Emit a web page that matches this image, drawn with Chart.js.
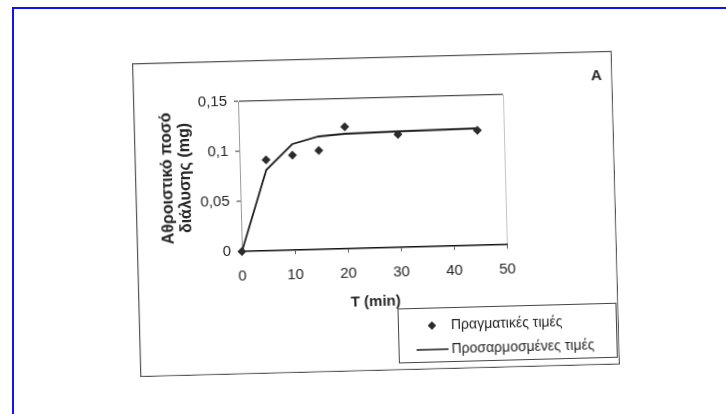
<!DOCTYPE html>
<html lang="el">
<head>
<meta charset="utf-8">
<script src="https://cdn.jsdelivr.net/npm/chart.js@4.4.1/dist/chart.umd.min.js"></script>
<style>
  html, body { margin: 0; padding: 0; background: #fff; width: 726px; height: 414px; overflow: hidden; }
  .sheet { position: absolute; left: 12px; top: 7px; width: 730px; height: 430px;
           border-left: 2px solid #1414f2; border-top: 2px solid #1414f2; }
  .figure { position: absolute; left: 136px; top: 57px; width: 480px; height: 314px;
            transform: rotate(-1.5deg); transform-origin: 50% 50%; }
  canvas { display: block; }
</style>
</head>
<body>
<div class="sheet"></div>
<div class="figure"><canvas id="c" width="480" height="314"></canvas></div>
<script>
// Cumulative dissolved amount over time: measured points and fitted curve
const timeMin   = [0, 5, 10, 15, 20, 30, 45];
const measured  = [0, 0.091, 0.095, 0.099, 0.122, 0.113, 0.115];
const fitted    = [0, 0.081, 0.106, 0.113, 0.115, 0.116, 0.117];

const xTickValues = [0, 10, 20, 30, 40, 50];
const xTickLabels = ['0', '10', '20', '30', '40', '50'];
const yTickValues = [0, 0.05, 0.1, 0.15];
const yTickLabels = ['0', '0,05', '0,1', '0,15'];

const seriesNames = ['Πραγματικές τιμές', 'Προσαρμοσμένες τιμές'];
const yTitle = ['Αθροιστικό ποσό', 'διάλυσης (mg)'];
const xTitle = 'T (min)';
const panelLabel = 'A';

const ink = '#262626';
const FONT = "'Liberation Sans', Arial, sans-serif";

const toPoints = (xs, ys) => xs.map((x, i) => ({ x, y: ys[i] }));

// Outer frame, panel letter and the boxed legend below the plot
const figureDecor = {
  id: 'figureDecor',
  afterDraw(chart, args, o) {
    const ctx = chart.ctx;
    ctx.save();
    // frame
    ctx.strokeStyle = '#555';
    ctx.lineWidth = 1.2;
    ctx.strokeRect(0.6, 0.6, chart.width - 1.2, chart.height - 1.2);

    // panel letter
    ctx.fillStyle = ink;
    ctx.font = `bold 15px ${FONT}`;
    ctx.textAlign = 'center';
    ctx.textBaseline = 'middle';
    ctx.fillText(panelLabel, o.labelX, o.labelY);

    // legend box
    const L = o.legend;
    ctx.strokeStyle = '#444';
    ctx.lineWidth = 1;
    ctx.strokeRect(L.left + 0.5, L.top + 0.5, L.width, L.height);
    ctx.font = `14px ${FONT}`;
    ctx.textAlign = 'left';
    chart.data.datasets.forEach((ds, i) => {
      const cy = L.top + L.firstRow + i * L.rowGap;
      const cx = L.left + L.markerX;
      if (ds.showLine === false) {
        ctx.fillStyle = ds.pointBackgroundColor;
        Chart.helpers.drawPoint(ctx, { pointStyle: 'rectRot', radius: 4, rotation: 0 }, cx, cy);
        ctx.fill();
      } else {
        ctx.strokeStyle = ds.borderColor;
        ctx.lineWidth = 1.5;
        ctx.beginPath();
        ctx.moveTo(cx - L.lineHalf, cy);
        ctx.lineTo(cx + L.lineHalf, cy);
        ctx.stroke();
      }
      ctx.fillStyle = ink;
      ctx.fillText(ds.label, L.left + L.textX, cy + 0.5);
    });
    ctx.restore();
  }
};

new Chart(document.getElementById('c'), {
  type: 'scatter',
  data: {
    datasets: [
      {
        label: seriesNames[0],
        data: toPoints(timeMin, measured),
        showLine: false,
        pointStyle: 'rectRot',
        pointRadius: 4.5,
        pointBackgroundColor: '#2b2b2b',
        pointBorderColor: '#2b2b2b',
        pointBorderWidth: 0,
        clip: false
      },
      {
        label: seriesNames[1],
        data: toPoints(timeMin, fitted),
        showLine: true,
        borderColor: '#1e1e1e',
        borderWidth: 1.8,
        pointRadius: 0,
        tension: 0,
        clip: false
      }
    ]
  },
  options: {
    responsive: false,
    devicePixelRatio: 1,
    animation: false,
    layout: { padding: { left: 0, top: 41, right: 110, bottom: 60 } },
    plugins: {
      legend: { display: false },
      tooltip: { enabled: false },
      figureDecor: {
        labelX: 464, labelY: 25,
        legend: { left: 259, top: 252, width: 218, height: 54,
                  firstRow: 18, rowGap: 24, markerX: 34, lineHalf: 16, textX: 53 }
      }
    },
    scales: {
      x: {
        type: 'linear',
        min: 0, max: 50,
        afterBuildTicks: s => { s.ticks = xTickValues.map(v => ({ value: v })); },
        afterFit: s => { s.height = 63; },
        ticks: {
          callback: (v, i) => xTickLabels[i],
          color: ink, font: { family: FONT, size: 15 }, padding: 12, maxRotation: 0
        },
        grid: {
          drawOnChartArea: true,
          color: c => (c.tick && c.tick.value === 50 ? '#c4c4c4' : 'rgba(0,0,0,0)'),
          tickColor: '#666', tickLength: 4, lineWidth: 1
        },
        border: { color: '#111', width: 1.5 },
        title: {
          display: true, text: xTitle, color: ink,
          font: { family: FONT, size: 15, weight: 'bold' },
          padding: { top: 0, bottom: 0 }
        }
      },
      y: {
        type: 'linear',
        min: 0, max: 0.15,
        afterBuildTicks: s => { s.ticks = yTickValues.map(v => ({ value: v })); },
        afterFit: s => { s.width = 105; },
        ticks: {
          callback: (v, i) => yTickLabels[i],
          color: ink, font: { family: FONT, size: 15 }, padding: 7
        },
        grid: {
          drawOnChartArea: true,
          color: c => (c.tick && c.tick.value === 0.15 ? '#4a4a4a' : 'rgba(0,0,0,0)'),
          tickColor: '#555', tickLength: 4, lineWidth: 1.2
        },
        border: { color: '#9a9a9a', width: 1 },
        title: {
          display: true, text: yTitle, color: ink,
          font: { family: FONT, size: 16, weight: 'bold', lineHeight: 1.1 },
          padding: { top: 24, bottom: 0 }
        }
      }
    }
  },
  plugins: [figureDecor]
});
</script>
</body>
</html>
